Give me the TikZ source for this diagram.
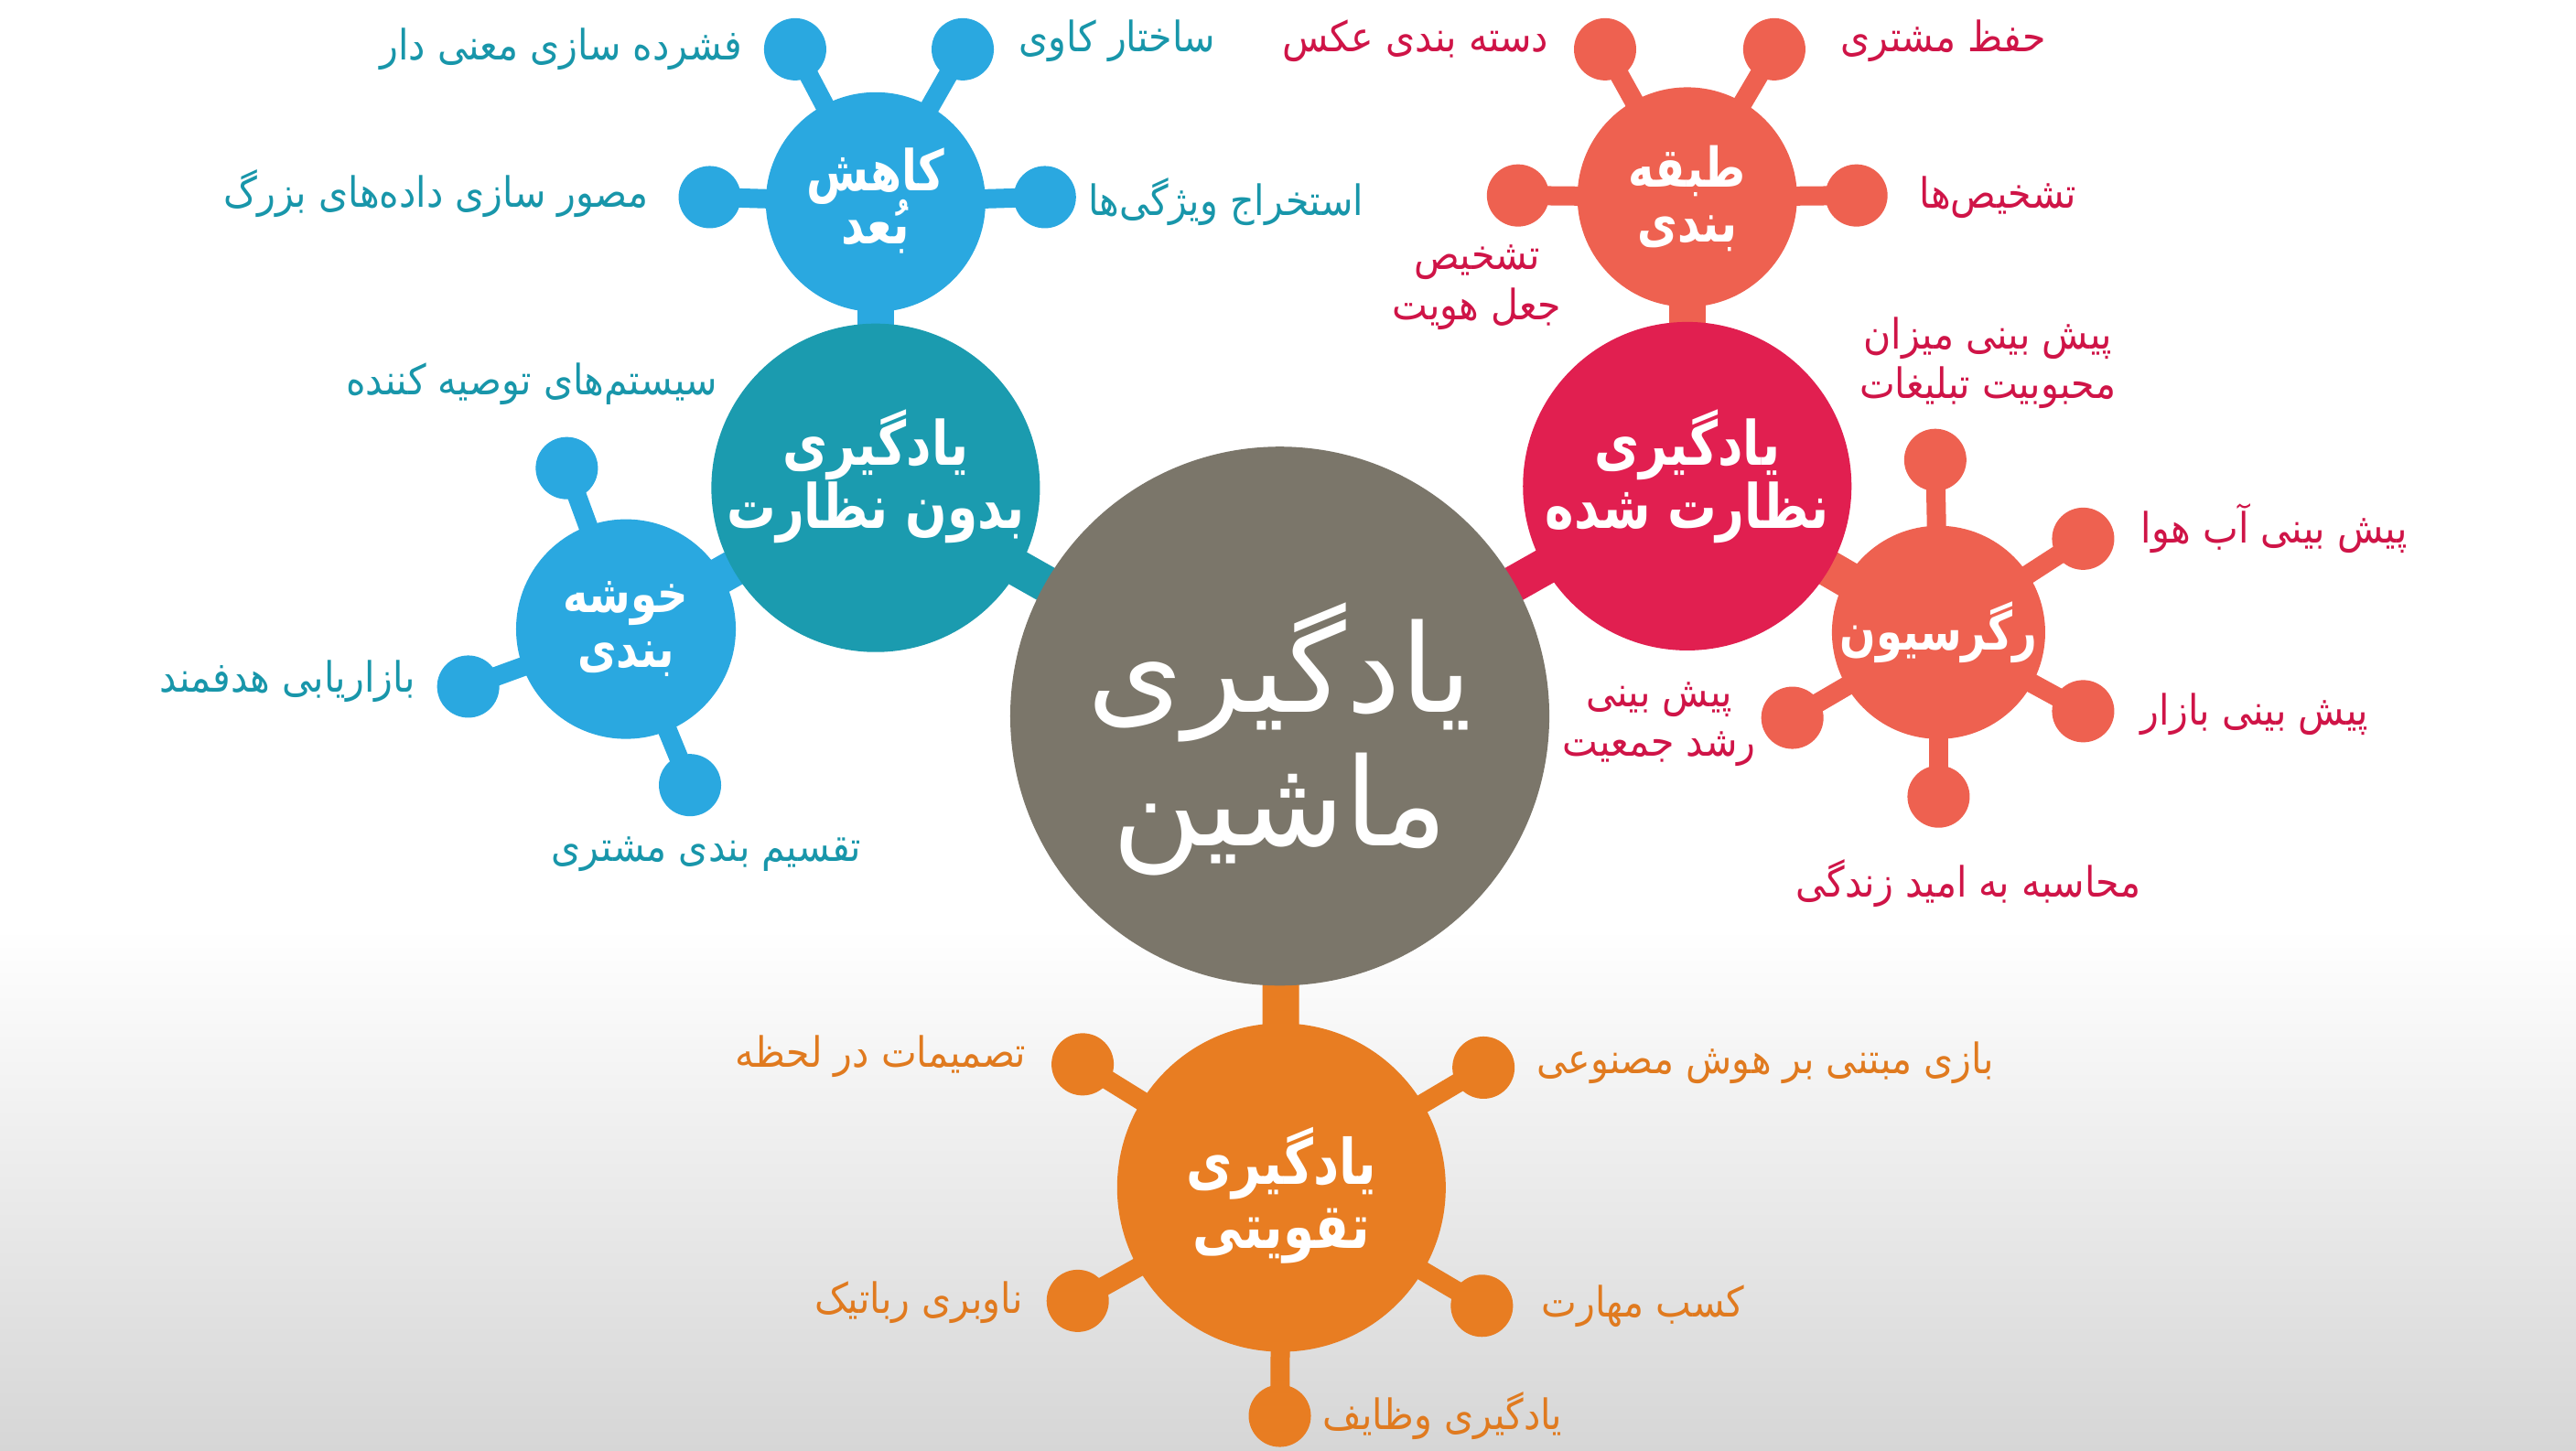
\documentclass[tikz,border=0pt]{standalone}
\usepackage{fontspec}
\newfontfamily\fafont[Script=Arabic]{DejaVu Sans}
\TeXXeTstate=1
\newcommand{\fa}[1]{{\fafont\beginR #1\endR}}
\newcommand{\ft}[1]{\scalebox{0.8}[1]{\fa{#1}}}
\newcommand{\fl}[1]{\scalebox{0.9}[1]{\fa{#1}}}
\newcommand{\tightlines}{\lineskiplimit=-50pt\relax}
\pgfdeclarelayer{bgl}
\pgfdeclarelayer{links}
\pgfsetlayers{bgl,links,main}
\definecolor{cgray}{HTML}{7B766A}
\definecolor{cteal}{HTML}{1B9BAF}
\definecolor{cblue}{HTML}{2AA8E0}
\definecolor{ccrim}{HTML}{E11F50}
\definecolor{ccoral}{HTML}{EE6150}
\definecolor{corange}{HTML}{E87D22}
\definecolor{tteal}{HTML}{1896AA}
\definecolor{tcrim}{HTML}{CF1447}
\definecolor{torange}{HTML}{E07A1F}
\definecolor{bgbot}{HTML}{D6D6D6}
\tikzset{
  hub/.style={circle, inner sep=0pt},
  bighub/.style={hub, minimum size=35.9mm},
  midhub/.style={hub, minimum size=24mm},
  sat/.style={circle, inner sep=0pt, minimum size=6.8mm},
  title/.style={inner sep=0pt, text=white, align=center,
    font=\fafont\bfseries\fontsize{19}{19.5}\selectfont\tightlines},
  smalltitle/.style={title, font=\fafont\bfseries\fontsize{17.5}{16.5}\selectfont\tightlines},
  centertitle/.style={title, font=\fafont\fontsize{38}{41.5}\selectfont\tightlines},
  lbl/.style={inner sep=0pt, align=center,
    font=\fafont\fontsize{13}{15.5}\selectfont\tightlines},
  link/.style={line width=2.1mm},
  trunk/.style={line width=4mm}
}
\begin{document}
\begin{tikzpicture}[x=0.1795mm, y=-0.1795mm]
\begin{pgfonlayer}{bgl}
\fill[white] (0,0) rectangle (1568,883);
\shade[top color=white, bottom color=bgbot] (0,565) rectangle (1568,883);
\end{pgfonlayer}
\useasboundingbox (0,0) rectangle (1568,883);

% circles
\node[hub, fill=cgray, minimum size=58.9mm] (C) at (779,436) {};
\node[bighub, fill=cteal] (U) at (533,297) {};
\node[midhub, fill=cblue] (D) at (533,123) {};
\node[midhub, fill=cblue] (K) at (381,383) {};
\node[bighub, fill=ccrim] (S) at (1027,296) {};
\node[midhub, fill=ccoral] (T) at (1027,120) {};
\node[hub, minimum size=23.3mm, fill=ccoral] (R) at (1180,385) {};
\node[bighub, fill=corange] (O) at (780,723) {};

% satellites
\node[sat, fill=cblue] (d1) at (484,30) {};
\node[sat, fill=cblue] (d2) at (586,30) {};
\node[sat, fill=cblue] (d3) at (432,120) {};
\node[sat, fill=cblue] (d4) at (636,120) {};
\node[sat, fill=cblue] (k1) at (345,285) {};
\node[sat, fill=cblue] (k2) at (285,418) {};
\node[sat, fill=cblue] (k3) at (420,478) {};
\node[sat, fill=ccoral] (t1) at (977,30) {};
\node[sat, fill=ccoral] (t2) at (1080,30) {};
\node[sat, fill=ccoral] (t3) at (924,119) {};
\node[sat, fill=ccoral] (t4) at (1130,119) {};
\node[sat, fill=ccoral] (r1) at (1178,280) {};
\node[sat, fill=ccoral] (r2) at (1268,328) {};
\node[sat, fill=ccoral] (r3) at (1268,433) {};
\node[sat, fill=ccoral] (r4) at (1180,485) {};
\node[sat, fill=ccoral] (r5) at (1091,437) {};
\node[sat, fill=corange] (o1) at (659,648) {};
\node[sat, fill=corange] (o2) at (903,650) {};
\node[sat, fill=corange] (o3) at (656,792) {};
\node[sat, fill=corange] (o4) at (902,795) {};
\node[sat, fill=corange] (o5) at (779,862) {};

% titles
\node[centertitle] (Ct) at (779,450) {\fa{یادگیری}\\\fa{ماشین}};
\node[title] (Ut) at (533,290) {\ft{یادگیری}\\\ft{بدون نظارت}};
\node[smalltitle] (Dt) at (533,122) {\ft{کاهش}\\\ft{بُعد}};
\node[smalltitle, font=\fafont\bfseries\fontsize{16.5}{17}\selectfont\tightlines] (Kt) at (381,383) {\ft{خوشه}\\\ft{بندی}};
\node[title] (St) at (1027,290) {\ft{یادگیری}\\\ft{نظارت شده}};
\node[smalltitle, font=\fafont\bfseries\fontsize{17}{17}\selectfont\tightlines] (Tt) at (1027,121) {\ft{طبقه}\\\ft{بندی}};
\node[title, font=\fafont\bfseries\fontsize{16.5}{17}\selectfont] (Rt) at (1180,385) {\ft{رگرسیون}};
\node[title, font=\fafont\bfseries\fontsize{19.5}{20}\selectfont\tightlines] (Ot) at (780,728) {\ft{یادگیری}\\\ft{تقویتی}};

% connectors
\begin{pgfonlayer}{links}
\draw[trunk, cteal] (U.center) -- (C.center);
\draw[trunk, cblue] (D.center) -- (U.center);
\draw[trunk, cblue] (K.center) -- (U.center);
\draw[trunk, ccrim] (S.center) -- (C.center);
\draw[trunk, ccoral] (T.center) -- (S.center);
\draw[trunk, ccoral] (R.center) -- (S.center);
\draw[trunk, corange] (O.center) -- (C.center);
\foreach \s in {d1,d2,d3,d4} \draw[link, cblue] (D.center) -- (\s.center);
\foreach \s in {k1,k2,k3} \draw[link, cblue] (K.center) -- (\s.center);
\foreach \s in {t1,t2,t3,t4} \draw[link, ccoral] (T.center) -- (\s.center);
\foreach \s in {r1,r2,r3,r4,r5} \draw[link, ccoral] (R.center) -- (\s.center);
\foreach \s in {o1,o2,o3,o4,o5} \draw[link, corange] (O.center) -- (\s.center);
\end{pgfonlayer}

% labels: unsupervised
\node[lbl, text=tteal, anchor=east] (ld1) at (452,30) {\fl{فشرده سازی معنی دار}};
\node[lbl, text=tteal, anchor=west] (ld2) at (620,25) {\fl{ساختار کاوی}};
\node[lbl, text=tteal, anchor=east] (ld3) at (395,118) {\fl{مصور سازی داده^^^^200cهای بزرگ}};
\node[lbl, text=tteal, anchor=west] (ld4) at (662,123) {\fl{استخراج ویژگی^^^^200cها}};
\node[lbl, text=tteal, anchor=east] (lk0) at (437,234) {\fl{سیستم^^^^200cهای توصیه کننده}};
\node[lbl, text=tteal, anchor=east] (lk2) at (253,415) {\fl{بازاریابی هدفمند}};
\node[lbl, text=tteal] (lk3) at (430,520) {\fl{تقسیم بندی مشتری}};

% labels: supervised
\node[lbl, text=tcrim, anchor=east] (lt1) at (943,25) {\fl{دسته بندی عکس}};
\node[lbl, text=tcrim, anchor=west] (lt2) at (1120,25) {\fl{حفظ مشتری}};
\node[lbl, text=tcrim] (lt3) at (899,175) {\fl{تشخیص}\\\fl{جعل هویت}};
\node[lbl, text=tcrim, anchor=west] (lt4) at (1168,120) {\fl{تشخیص^^^^200cها}};
\node[lbl, text=tcrim] (lr1) at (1210,221) {\fl{پیش بینی میزان}\\\fl{محبوبیت تبلیغات}};
\node[lbl, text=tcrim, anchor=west] (lr2) at (1303,322) {\fl{پیش بینی آب هوا}};
\node[lbl, text=tcrim, anchor=west] (lr3) at (1303,435) {\fl{پیش بینی بازار}};
\node[lbl, text=tcrim] (lr4) at (1198,538) {\fl{محاسبه به امید زندگی}};
\node[lbl, text=tcrim] (lr5) at (1010,441) {\fl{پیش بینی}\\\fl{رشد جمعیت}};

% labels: reinforcement
\node[lbl, text=torange, anchor=east] (lo1) at (625,643) {\fl{تصمیمات در لحظه}};
\node[lbl, text=torange, anchor=west] (lo2) at (935,647) {\fl{بازی مبتنی بر هوش مصنوعی}};
\node[lbl, text=torange, anchor=east] (lo3) at (623,793) {\fl{ناوبری رباتیک}};
\node[lbl, text=torange, anchor=west] (lo4) at (938,795) {\fl{کسب مهارت}};
\node[lbl, text=torange, anchor=west] (lo5) at (805,862) {\fl{یادگیری وظایف}};
\end{tikzpicture}
\end{document}
